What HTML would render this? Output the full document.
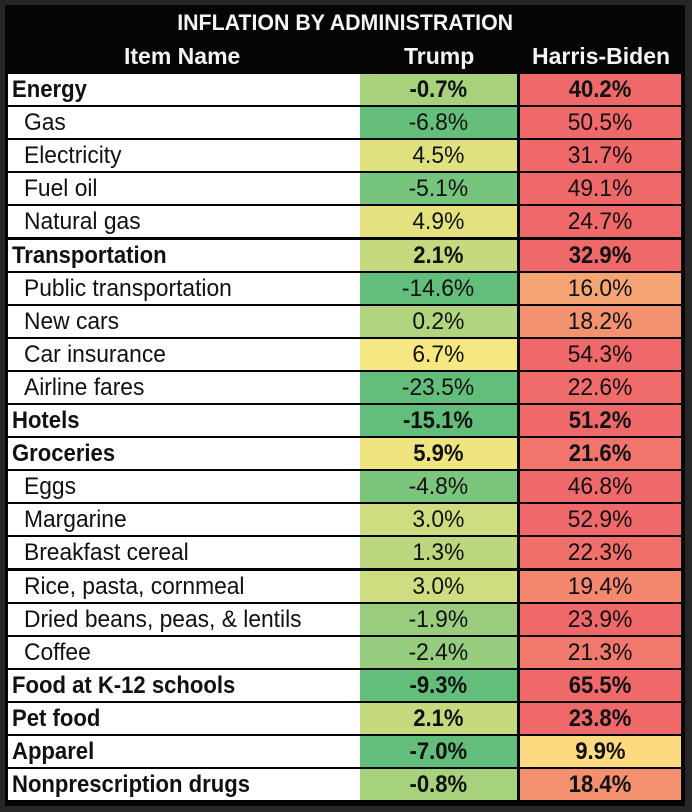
<!DOCTYPE html>
<html><head><meta charset="utf-8"><style>
html,body{margin:0;padding:0;background:#262626;width:692px;height:812px;overflow:hidden}
#p{position:absolute;left:5px;top:5px;width:680px;height:801px;background:#050505}
.t{position:absolute;left:0;width:680px;text-align:center;color:#f4f4f4;font-family:"Liberation Sans",sans-serif;font-weight:bold}
.c{position:absolute;height:31px;line-height:31px;font-family:"Liberation Sans",sans-serif;font-size:24px;color:#111;box-sizing:border-box;white-space:nowrap}
.c span{display:inline-block;transform:scaleX(0.95)}
.bd span{transform:scaleX(0.92)}
.n{left:3px;width:352px;background:#fff;padding-left:4px}
.n span{transform-origin:left center}
.n.s{padding-left:16px}
.a{left:355px;width:157px;text-align:center}
.b{left:515px;width:161px;text-align:center}
.bd{font-weight:bold}
</style></head><body><div id="p">
<div class="t" style="top:3px;font-size:22px;line-height:30px"><span style="display:inline-block;transform:scaleX(0.97)">INFLATION BY ADMINISTRATION</span></div>
<div class="t" style="top:36px;font-size:23px;line-height:30px"><span style="position:absolute;left:119px">Item Name</span><span style="position:absolute;left:399px">Trump</span><span style="position:absolute;left:527px">Harris-Biden</span></div>
<div id="rows"></div>
</div>
<script>
var d=[["Energy",-0.7,40.2,1],["Gas",-6.8,50.5],["Electricity",4.5,31.7],["Fuel oil",-5.1,49.1],["Natural gas",4.9,24.7],["Transportation",2.1,32.9,1],["Public transportation",-14.6,16.0],["New cars",0.2,18.2],["Car insurance",6.7,54.3],["Airline fares",-23.5,22.6],["Hotels",-15.1,51.2,1],["Groceries",5.9,21.6,1],["Eggs",-4.8,46.8],["Margarine",3.0,52.9],["Breakfast cereal",1.3,22.3],["Rice, pasta, cornmeal",3.0,19.4],["Dried beans, peas, & lentils",-1.9,23.9],["Coffee",-2.4,21.3],["Food at K-12 schools",-9.3,65.5,1],["Pet food",2.1,23.8,1],["Apparel",-7.0,9.9,1],["Nonprescription drugs",-0.8,18.4,1]];
function mix(a,b,t){t=Math.max(0,Math.min(1,t));return "rgb("+a.map(function(x,i){return Math.round(x+(b[i]-x)*t)}).join(",")+")"}
var h="";
d.forEach(function(r,i){var y=69+i*33.1;var cl=r[3]?" bd":"";
var ca=mix([99,190,123],[250,232,128],(r[1]+7)/14);
var cb=r[2]<16?mix([252,218,127],[245,165,115],(r[2]-10)/6):mix([245,165,115],[240,105,106],(r[2]-16)/7);
var f=function(v){return v.toFixed(1)+"%"};
h+='<div class="c n'+(r[3]?' bd':' s')+'" style="top:'+y+'px"><span>'+r[0].replace(/&/g,"&amp;")+'</span></div>';
h+='<div class="c a'+cl+'" style="top:'+y+'px;background:'+ca+'"><span>'+f(r[1])+'</span></div>';
h+='<div class="c b'+cl+'" style="top:'+y+'px;background:'+cb+'"><span>'+f(r[2])+'</span></div>';});
document.getElementById("rows").innerHTML=h;
</script>
</body></html>
